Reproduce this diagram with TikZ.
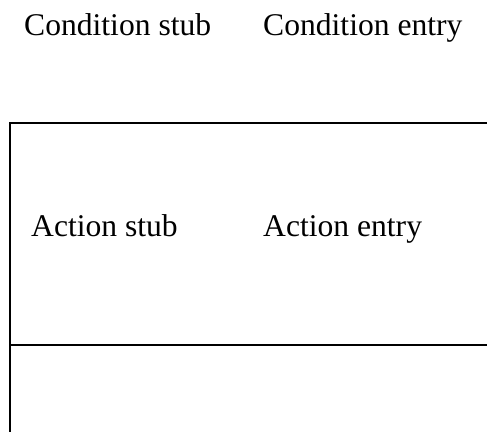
\documentclass[tikz,border=0pt]{standalone}
\usepackage{fontspec}
\setmainfont{Liberation Serif}
\begin{document}
\begin{tikzpicture}[x=1pt,y=1pt,
  label/.style={anchor=base west,inner sep=0pt,font=\fontsize{31.6}{36}\selectfont},
  rule/.style={line width=2.2pt,black}]
\useasboundingbox (0,0) rectangle (487,432);
% header labels
\node[label] (cs) at (24,396) {Condition stub};
\node[label] (ce) at (263,396) {Condition entry};
% table frame corners
\coordinate (tl) at (9.7,309);
\coordinate (tr) at (487,309);
\coordinate (bl) at (9.7,0);
\coordinate (ml) at (9.7,87);
\coordinate (mr) at (487,87);
\draw[rule] (tr) -- (tl) -- (bl);
\draw[rule] (ml) -- (mr);
% action row labels
\node[label] (as) at (31,196) {Action stub};
\node[label] (ae) at (263,196) {Action entry};
\end{tikzpicture}
\end{document}
